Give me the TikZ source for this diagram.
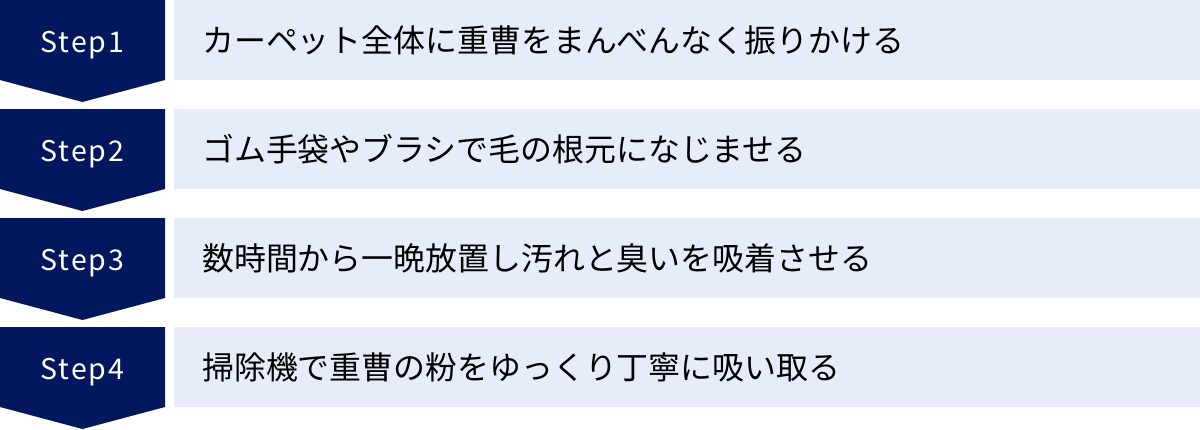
\documentclass[tikz,border=0pt]{standalone}
\usepackage{fontspec}
\setmainfont{Noto Sans CJK JP}
\newfontfamily\stepfont[LetterSpace=7]{Noto Sans CJK JP}
\definecolor{stepnavy}{HTML}{03175F}
\definecolor{desclight}{HTML}{E6ECFA}

\tikzstyle{stepshape}=[fill=stepnavy, draw=none]
\tikzstyle{descbox}=[fill=desclight, draw=none]
\tikzstyle{steplabel}=[text=white, font=\stepfont\fontsize{28.5}{32}\selectfont, inner sep=0pt, anchor=base]
\tikzstyle{desclabel}=[text=black, font=\fontsize{31.9}{36}\selectfont, inner sep=0pt, anchor=west]

\begin{document}
\begin{tikzpicture}[x=1pt,y=-1pt]
        \useasboundingbox (0,0) rectangle (1200,429);

        \fill[stepshape] (0,0)   -- (165,0)   -- (165,80)  -- (82.5,102) -- (0,80)  -- cycle;
        \fill[stepshape] (0,109) -- (165,109) -- (165,189) -- (82.5,211) -- (0,189) -- cycle;
        \fill[stepshape] (0,218) -- (165,218) -- (165,298) -- (82.5,320) -- (0,298) -- cycle;
        \fill[stepshape] (0,327) -- (165,327) -- (165,407) -- (82.5,429) -- (0,407) -- cycle;
        %
        \fill[descbox] (174,0)   rectangle (1200,80);
        \fill[descbox] (174,109) rectangle (1200,189);
        \fill[descbox] (174,218) rectangle (1200,298);
        \fill[descbox] (174,327) rectangle (1200,407);
        %
        \draw (82.5,52.3)  node[steplabel](s1){Step1};
        \draw (82.5,161.3) node[steplabel](s2){Step2};
        \draw (82.5,270.3) node[steplabel](s3){Step3};
        \draw (82.5,379.3) node[steplabel](s4){Step4};
        %
        \draw (202,40)  node[desclabel](d1){カーペット全体に重曹をまんべんなく振りかける};
        \draw (202,149) node[desclabel](d2){ゴム手袋やブラシで毛の根元になじませる};
        \draw (202,258) node[desclabel](d3){数時間から一晩放置し汚れと臭いを吸着させる};
        \draw (202,367) node[desclabel](d4){掃除機で重曹の粉をゆっくり丁寧に吸い取る};
      \end{tikzpicture}
\end{document}
